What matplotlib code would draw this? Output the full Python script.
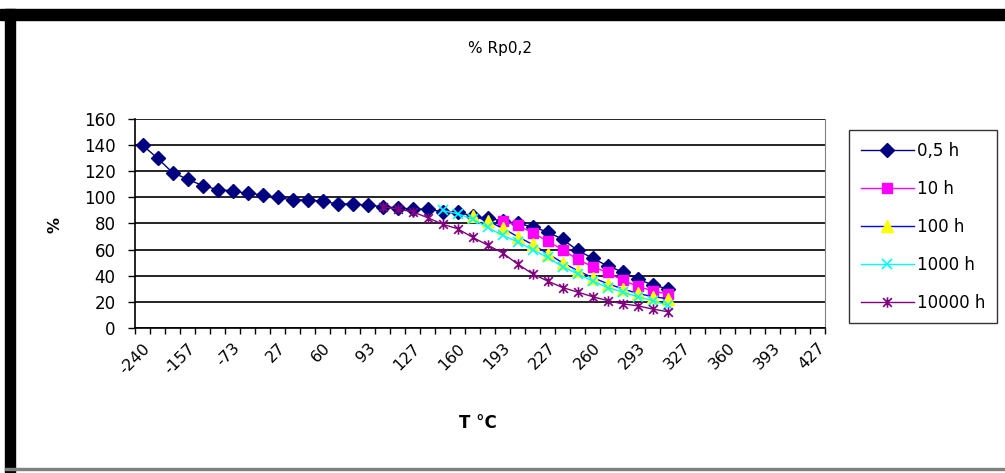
import matplotlib.pyplot as plt
import numpy as np
from matplotlib.path import Path
from matplotlib.patches import Rectangle
from matplotlib.lines import Line2D

# temperatures (°C), 46 categories
temps = [-240, -212, -184, -157, -129, -101, -73, -46, -18, 27, 38, 49, 60, 71, 82, 93,
         104, 116, 127, 138, 149, 160, 171, 182, 193, 204, 216, 227, 238, 249, 260, 271,
         282, 293, 304, 316, 327, 338, 349, 360, 371, 382, 393, 404, 416, 427]

h05 = [140, 130, 119, 114, 109, 106, 105, 103, 102, 100, 98, 98, 97, 95, 95, 94,
       93, 92, 91, 91, 89, 88.5, 86, 84, 82, 80, 77.5, 73.5, 68, 59.5, 53.5, 47.5,
       43, 37.5, 33, 30]
h10 = [82, 78.5, 73, 66.5, 60, 52.5, 47, 42.5, 36.5, 32, 28.5, 26]
h100 = [86, 82, 76.5, 70, 64, 57, 50, 44, 38.5, 34, 30, 26.5, 24, 22.5]
h1000 = [90, 87.5, 83.5, 77, 71, 66, 60, 54, 47, 41.5, 36, 31, 27.5, 24, 21, 17.5]
h10000 = [93, 91, 89, 84.5, 79.5, 76, 69.5, 63.5, 57.5, 49, 41.5, 36, 31, 27.5, 24,
          21, 18.5, 17, 14.5, 12.5]

labels = ["0,5 h", "10 h", "100 h", "1000 h", "10000 h"]
starts = [0, 24, 22, 20, 16]


def place(vals, start):
    y = np.full(len(temps), np.nan)
    y[start:start + len(vals)] = vals
    return y


# Excel style star: x plus vertical line
star = Path([(-1, -1), (1, 1), (-1, 1), (1, -1), (0, -1.2), (0, 1.2)],
            [Path.MOVETO, Path.LINETO, Path.MOVETO, Path.LINETO, Path.MOVETO, Path.LINETO])

styles = [
    dict(color="#000080", marker="D", ms=7.5, mfc="#000080", mec="#000080"),
    dict(color="#FF00FF", marker="s", ms=6.5, mfc="#FF00FF", mec="#FF00FF"),
    dict(color="#0000FF", marker="^", ms=8, mfc="#FFFF00", mec="#FFFF00"),
    dict(color="#00FFFF", marker="x", ms=6.5, mfc="#00FFFF", mec="#00FFFF", mew=1.2),
    dict(color="#800080", marker=star, ms=7.5, mfc="#800080", mec="#800080", mew=1.2),
]

plt.rcParams['font.family'] = ['DejaVu Sans']

fig = plt.figure(figsize=(10.05, 4.73), dpi=100)
ax = fig.add_axes([135 / 1005, 1 - 328 / 473, 690 / 1005, 209 / 473])

x = np.arange(len(temps))
for vals, st, lab, s in zip([h05, h10, h100, h1000, h10000], styles, labels, starts):
    ax.plot(x, place(vals, s), lw=1, label=lab, **st)

ax.set_xlim(-0.5, len(temps) - 0.5)
ax.set_ylim(0, 160)
ax.set_yticks(range(0, 161, 20))
ax.yaxis.grid(True, color="black", lw=1.2)
ax.set_axisbelow(True)
ax.tick_params(axis="y", direction="out", length=5, width=1, labelsize=12, pad=9)

ax.set_xticks(x[::3])
ax.set_xticklabels([str(t) for t in temps[::3]], rotation=45, ha="right", va="top",
                   rotation_mode="anchor", fontsize=11.5)
ax.tick_params(axis="x", which="major", length=0, pad=9)
ax.set_xticks(np.arange(-0.5, len(temps), 1), minor=True)
ax.tick_params(axis="x", which="minor", direction="out", length=4, width=1)

ax.spines["top"].set_visible(False)
ax.spines["right"].set_color("#808080")
ax.spines["left"].set_linewidth(1.2)
ax.spines["bottom"].set_linewidth(1.2)

fig.text(500 / 1005, 1 - 48 / 473, "% Rp0,2", ha="center", va="center", fontsize=11)
fig.text(55 / 1005, 1 - 225 / 473, "%", ha="center", va="center", rotation=90,
         fontsize=11.5, fontweight="bold")
fig.text(478 / 1005, 1 - 423 / 473, "T °C", ha="center", va="center", fontsize=12,
         fontweight="bold")

handles = [Line2D([], [], lw=1, **st) for st in styles]
leg = fig.legend(handles, labels, loc="upper left",
                 bbox_to_anchor=(849 / 1005, 1 - 130 / 473), fontsize=12,
                 frameon=True, fancybox=False, handlelength=3.2, handletextpad=0.2,
                 labelspacing=1.2, borderpad=0.7, borderaxespad=0)
leg.get_frame().set_edgecolor("black")
leg.get_frame().set_linewidth(1)

# chart area border
fig.patches.append(Rectangle((0, 1 - 20 / 473), 1, 11 / 473, transform=fig.transFigure,
                             color="black", zorder=5))
fig.patches.append(Rectangle((5 / 1005, 0), 10 / 1005, 1 - 9 / 473, transform=fig.transFigure,
                             color="black", zorder=5))
fig.patches.append(Rectangle((5 / 1005, 3 / 473), 1, 2 / 473, transform=fig.transFigure,
                             color="#808080", zorder=5))

fig.savefig("out.png", dpi=100)
